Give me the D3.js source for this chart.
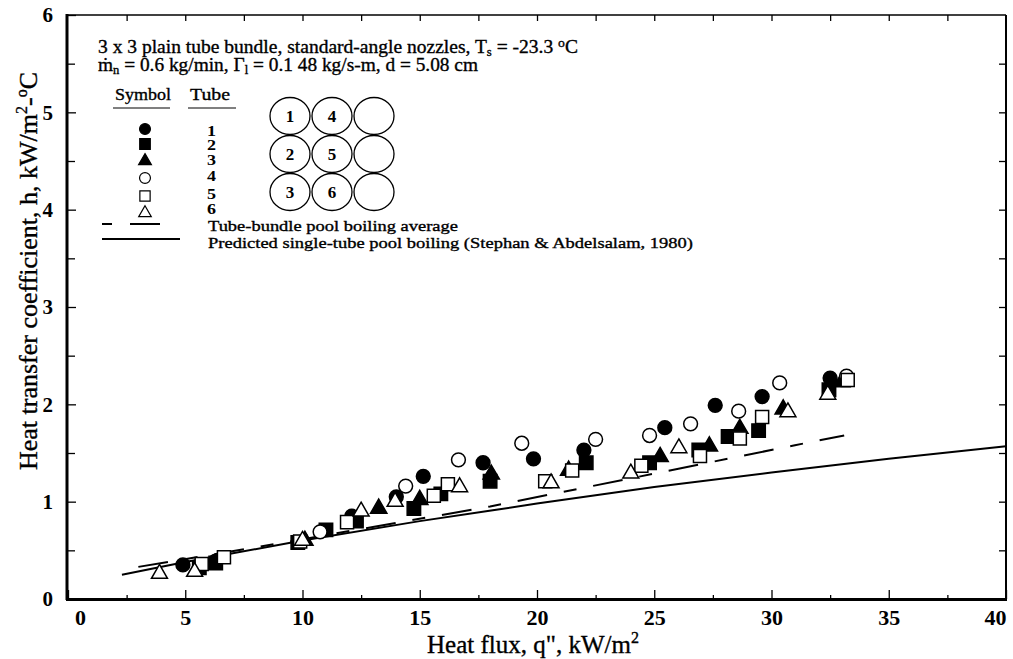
<!DOCTYPE html>
<html><head><meta charset="utf-8">
<script src="https://cdn.jsdelivr.net/npm/d3@7"></script>
<style>
body{margin:0;background:#fff;}
svg text{font-family:"Liberation Serif","Times New Roman",serif;fill:#000;}
.heavy{stroke:#000;stroke-width:0.35px;}
</style></head>
<body><svg id="c" width="1013" height="659"></svg>
<script>
// ---- data ----
const xTicks = [0,5,10,15,20,25,30,35,40];
const yTicks = [0,1,2,3,4,5,6];
const tubeNames = ["1","2","3","4","5","6"];
const tube1 = [[4.9,0.35],[6.3,0.39],[12.1,0.85],[14.0,1.05],[15.15,1.26],[17.7,1.40],[19.85,1.44],[22.0,1.53],[25.45,1.76],[27.6,1.99],[29.6,2.08],[32.5,2.27]];
const tube2 = [[5.6,0.32],[6.3,0.37],[9.8,0.58],[11.0,0.71],[12.3,0.80],[14.75,0.93],[15.9,1.08],[18.0,1.21],[22.1,1.40],[24.8,1.40],[26.9,1.53],[28.15,1.67],[29.45,1.73],[32.45,2.15]];
const tube3 = [[10.1,0.60],[13.25,0.93],[15.0,1.02],[18.05,1.28],[21.35,1.32],[25.25,1.46],[27.35,1.57],[28.65,1.75],[30.5,1.95],[33.0,2.23]];
const tube4 = [[10.75,0.69],[14.4,1.16],[16.65,1.43],[19.35,1.60],[22.5,1.64],[24.8,1.68],[26.55,1.80],[28.6,1.93],[30.35,2.22],[33.2,2.29]];
const tube5 = [[5.7,0.36],[6.65,0.43],[9.9,0.59],[11.9,0.79],[15.6,1.06],[16.2,1.18],[20.35,1.21],[21.5,1.32],[24.45,1.37],[26.95,1.47],[28.65,1.65],[29.6,1.87],[33.25,2.25]];
const tube6 = [[3.9,0.26],[5.4,0.28],[10.0,0.60],[12.5,0.90],[13.95,1.00],[16.7,1.15],[20.6,1.19],[24.0,1.29],[26.05,1.55],[30.7,1.92],[32.4,2.10]];
const bundleAvgX = [3.0,8.0,13.0,18.0,24.0,31.0,33.1];
const bundleAvgY = [0.33,0.53,0.74,0.95,1.24,1.58,1.68];
const predictedX = [2.3,5,10,15,20,25,30,35,40];
const predictedY = [0.25,0.38,0.60,0.80,0.98,1.15,1.30,1.44,1.57];

// ---- setup ----
const svg = d3.select("#c");
const x = d3.scaleLinear().domain([0,40]).range([68,1006]);
const y = d3.scaleLinear().domain([0,6]).range([599,15]);

// axes
const gB = svg.append("g").attr("transform","translate(0,599)")
  .call(d3.axisBottom(x).tickValues(xTicks).tickSize(-9).tickPadding(10).tickFormat(d3.format("d")));
svg.append("g").attr("transform","translate(0,599)")
  .call(d3.axisBottom(x).tickValues(d3.range(2.5,40,5)).tickSize(-4).tickFormat(""));
svg.append("g").attr("transform","translate(0,15)")
  .call(d3.axisTop(x).tickValues(d3.range(2.5,40,2.5)).tickSize(-6).tickFormat(""));
const gL = svg.append("g").attr("transform","translate(68,0)")
  .call(d3.axisLeft(y).tickValues(yTicks).tickSize(-8).tickPadding(15).tickFormat(d3.format("d")));
svg.append("g").attr("transform","translate(68,0)")
  .call(d3.axisLeft(y).tickValues(d3.range(0.5,6,1)).tickSize(-7).tickFormat(""));
svg.append("g").attr("transform","translate(1006,0)")
  .call(d3.axisRight(y).tickValues(d3.range(0.5,6,0.5)).tickSize(-7).tickFormat(""));
svg.selectAll(".domain").remove();
svg.selectAll(".tick line").attr("stroke","#000").attr("stroke-width",1.3);
svg.selectAll(".tick text").attr("font-size",22).attr("font-weight","bold")
  .style("font-family",'"Liberation Serif",serif').attr("fill","#000");
gL.selectAll(".tick text").attr("font-size",21);
gB.selectAll(".tick text").filter(d=>d===0).attr("dx",12);
gB.selectAll(".tick text").filter(d=>d===40).attr("dx",-11);

// frame
svg.append("line").attr("x1",68).attr("x2",1006).attr("y1",15).attr("y2",15).attr("stroke","#000").attr("stroke-width",1.6);
svg.append("line").attr("x1",1006).attr("x2",1006).attr("y1",15).attr("y2",600).attr("stroke","#000").attr("stroke-width",2);
svg.append("line").attr("x1",67).attr("x2",67).attr("y1",14).attr("y2",600).attr("stroke","#000").attr("stroke-width",3);
svg.append("line").attr("x1",66).attr("x2",1007).attr("y1",599.5).attr("y2",599.5).attr("stroke","#000").attr("stroke-width",3);

// axis titles
const xt = svg.append("text").attr("class","heavy").attr("x",533).attr("y",653).attr("text-anchor","middle").attr("font-size",25);
xt.append("tspan").text('Heat flux, q", kW/m');
xt.append("tspan").text("2").attr("font-size",16).attr("dy",-10);
const yt = svg.append("text").attr("class","heavy").attr("transform","translate(37,271) rotate(-90)").attr("text-anchor","middle").attr("font-size",26);
yt.append("tspan").text("Heat transfer coefficient, h, kW/m");
yt.append("tspan").text("2").attr("font-size",16).attr("dy",-10);
yt.append("tspan").text("-").attr("dy",10);
yt.append("tspan").text("o").attr("font-size",16).attr("dy",-10);
yt.append("tspan").text("C").attr("dy",10);

// lines
const line = d3.line().x(d=>x(d[0])).y(d=>y(d[1]));
const predPts = predictedX.map((v,i)=>[v,predictedY[i]]);
const avgPts = bundleAvgX.map((v,i)=>[v,bundleAvgY[i]]);
svg.append("path").datum(predPts).attr("d",line).attr("fill","none").attr("stroke","#000").attr("stroke-width",2);
svg.append("path").datum(avgPts).attr("d",line).attr("fill","none").attr("stroke","#000").attr("stroke-width",2)
  .attr("stroke-dasharray","30,17,13,17");

// markers
const styles = [
  {type:d3.symbolCircle,size:150,fill:"#000"},
  {type:d3.symbolSquare,size:180,fill:"#000"},
  {type:d3.symbolTriangle,size:115,fill:"#000"},
  {type:d3.symbolCircle,size:150,fill:"#fff"},
  {type:d3.symbolSquare,size:170,fill:"#fff"},
  {type:d3.symbolTriangle,size:110,fill:"#fff"}
];
const tubes = [tube1,tube2,tube3,tube4,tube5,tube6];
tubes.forEach((pts,i)=>{
  const s = styles[i];
  svg.append("g").selectAll("path").data(pts).join("path")
    .attr("transform",d=>`translate(${x(d[0])},${y(d[1])})`)
    .attr("d",d3.symbol().type(s.type).size(s.size))
    .attr("fill",s.fill).attr("stroke","#000").attr("stroke-width",1.5);
});

// header text
const h1 = svg.append("text").attr("class","heavy").attr("x",98).attr("y",53).attr("font-size",18.5)
  .attr("textLength",480).attr("lengthAdjust","spacingAndGlyphs");
h1.append("tspan").text("3 x 3 plain tube bundle, standard-angle nozzles, T");
h1.append("tspan").text("s").attr("font-size",12).attr("dy",3);
h1.append("tspan").text(" = -23.3 ").attr("dy",-3);
h1.append("tspan").text("o").attr("font-size",13).attr("dy",-6);
h1.append("tspan").text("C").attr("dy",6);
const h2 = svg.append("text").attr("class","heavy").attr("x",98).attr("y",71).attr("font-size",18.5)
  .attr("textLength",380).attr("lengthAdjust","spacingAndGlyphs");
h2.append("tspan").text("ṁ");
h2.append("tspan").text("n").attr("font-size",12).attr("dy",3);
h2.append("tspan").text(" = 0.6 kg/min, Γ").attr("dy",-3);
h2.append("tspan").text("l").attr("font-size",12).attr("dy",3);
h2.append("tspan").text(" = 0.1 48 kg/s-m, d = 5.08 cm").attr("dy",-3);

// legend
svg.append("text").attr("class","heavy").attr("x",115).attr("y",100).attr("font-size",17)
  .attr("textLength",56).attr("lengthAdjust","spacingAndGlyphs").text("Symbol");
svg.append("text").attr("class","heavy").attr("x",190).attr("y",100).attr("font-size",17)
  .attr("textLength",40).attr("lengthAdjust","spacingAndGlyphs").text("Tube");
svg.append("line").attr("x1",113).attr("x2",170).attr("y1",108).attr("y2",108).attr("stroke","#000").attr("stroke-width",1);
svg.append("line").attr("x1",188).attr("x2",236).attr("y1",108).attr("y2",108).attr("stroke","#000").attr("stroke-width",1);
const legY = [129,144,161,178,196,213];
const legLabelY = [136,150,165,181,199,214];
styles.forEach((s,i)=>{
  svg.append("path").attr("transform",`translate(145,${legY[i]})`)
    .attr("d",d3.symbol().type(s.type).size(s.size*0.62))
    .attr("fill",s.fill).attr("stroke","#000").attr("stroke-width",1.2);
  svg.append("text").attr("x",207).attr("y",legLabelY[i]).attr("font-size",15).attr("font-weight","bold")
    .attr("textLength",9).attr("lengthAdjust","spacingAndGlyphs").text(tubeNames[i]);
});
svg.append("line").attr("x1",102).attr("x2",112).attr("y1",224).attr("y2",224).attr("stroke","#000").attr("stroke-width",2);
svg.append("line").attr("x1",130).attr("x2",160).attr("y1",224).attr("y2",224).attr("stroke","#000").attr("stroke-width",2);
svg.append("text").attr("class","heavy").attr("x",208).attr("y",231).attr("font-size",15)
  .attr("textLength",250).attr("lengthAdjust","spacingAndGlyphs").text("Tube-bundle pool boiling average");
svg.append("line").attr("x1",102).attr("x2",180).attr("y1",239).attr("y2",239).attr("stroke","#000").attr("stroke-width",2);
svg.append("text").attr("class","heavy").attr("x",208).attr("y",248).attr("font-size",15.5)
  .attr("textLength",485).attr("lengthAdjust","spacingAndGlyphs").text("Predicted single-tube pool boiling (Stephan & Abdelsalam, 1980)");

// tube arrangement diagram
const diagCols = [290,332,374], diagRows = [116,154,192];
const diagLabels = [["1","4",""],["2","5",""],["3","6",""]];
diagRows.forEach((cy,r)=>diagCols.forEach((cx,c)=>{
  svg.append("ellipse").attr("cx",cx).attr("cy",cy).attr("rx",20).attr("ry",18.5).attr("fill","none").attr("stroke","#000").attr("stroke-width",1.3);
  if(diagLabels[r][c]) svg.append("text").attr("x",cx).attr("y",cy+6).attr("text-anchor","middle")
    .attr("font-size",17).attr("font-weight","bold").text(diagLabels[r][c]);
}));
</script></body></html>
